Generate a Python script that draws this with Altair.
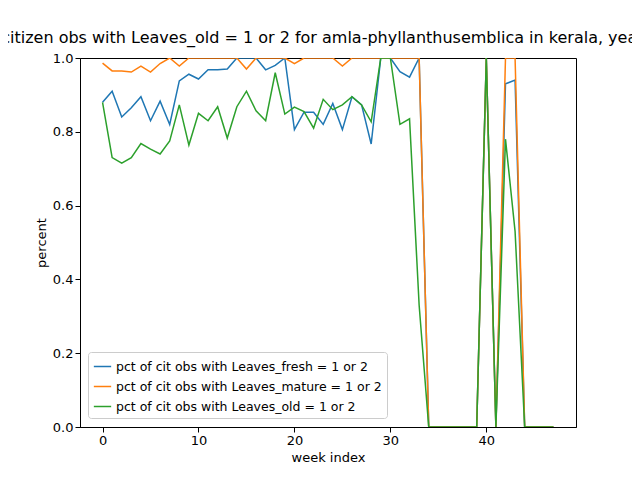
import altair as alt
import pandas as pd

weeks = list(range(48))

fresh = [0.88, 0.91, 0.84, 0.865, 0.895, 0.83, 0.883, 0.82, 0.938, 0.956,
         0.943, 0.968, 0.968, 0.97, 1.0, 1.0, 1.0, 0.968, 0.98, 1.0,
         0.806, 0.853, 0.853, 0.82, 0.877, 0.806, 0.895, 0.873, 0.767, 1.0,
         1.0, 0.963, 0.948, 1.0, 0.0, 0.0, 0.0, 0.0, 0.0, 0.0,
         1.0, 0.0, 0.93, 0.94, 0.0, 0.0, 0.0, 0.0]
mature = [0.986, 0.965, 0.965, 0.962, 0.978, 0.962, 0.985, 1.0, 0.978, 1.0,
          1.0, 1.0, 1.0, 1.0, 1.0, 0.97, 1.0, 1.0, 1.0, 1.0,
          0.985, 1.0, 1.0, 1.0, 1.0, 0.978, 1.0, 1.0, 1.0, 1.0,
          1.0, 1.0, 1.0, 1.0, 0.0, 0.0, 0.0, 0.0, 0.0, 0.0,
          1.0, 0.0, 1.0, 1.0, 0.0, 0.0, 0.0, 0.0]
old = [0.88, 0.73, 0.715, 0.73, 0.768, 0.753, 0.74, 0.775, 0.873, 0.764,
       0.85, 0.83, 0.868, 0.783, 0.868, 0.91, 0.857, 0.83, 0.96, 0.848,
       0.867, 0.855, 0.81, 0.888, 0.86, 0.873, 0.895, 0.873, 0.827, 1.0,
       1.0, 0.82, 0.835, 0.33, 0.0, 0.0, 0.0, 0.0, 0.0, 0.0,
       1.0, 0.0, 0.78, 0.53, 0.0, 0.0, 0.0, 0.0]

names = ["pct of cit obs with Leaves_fresh = 1 or 2",
         "pct of cit obs with Leaves_mature = 1 or 2",
         "pct of cit obs with Leaves_old = 1 or 2"]
colors = ["#1f77b4", "#ff7f0e", "#2ca02c"]

rows = []
for name, vals in zip(names, [fresh, mature, old]):
    for w, v in zip(weeks, vals):
        rows.append({"week": w, "pct": v, "series": name})
df = pd.DataFrame(rows)

chart = (
    alt.Chart(df)
    .mark_line(clip=True, strokeWidth=1.5)
    .encode(
        x=alt.X("week:Q", title="week index",
                scale=alt.Scale(domain=[-2.35, 49.35], nice=False, zero=False),
                axis=alt.Axis(values=[0, 10, 20, 30, 40], grid=False)),
        y=alt.Y("pct:Q", title="percent",
                scale=alt.Scale(domain=[0, 1], nice=False),
                axis=alt.Axis(values=[0, 0.2, 0.4, 0.6, 0.8, 1.0], format=".1f", grid=False)),
        color=alt.Color("series:N", scale=alt.Scale(domain=names, range=colors),
                        legend=alt.Legend(title=None, orient="none", legendX=8, legendY=294,
                                          symbolType="stroke", symbolStrokeWidth=1.5, symbolSize=300,
                                          labelFontSize=12.5, labelFont="DejaVu Sans", labelLimit=0,
                                          fillColor="white", strokeColor="#cccccc",
                                          padding=5, cornerRadius=3, rowPadding=4)),
        order="week:Q",
    )
    .properties(
        width=496, height=369,
        autosize=alt.AutoSizeParams(type="none"),
        padding={"left": 72, "top": 50, "right": 56, "bottom": 45},
        title=alt.TitleParams(
            "pct of citizen obs with Leaves_old = 1 or 2 for amla-phyllanthusemblica in kerala, year 2020",
            fontSize=16, fontWeight="normal", font="DejaVu Sans", dx=-8, offset=6),
    )
    .configure_axis(labelFont="DejaVu Sans", titleFont="DejaVu Sans", labelFontSize=13,
                    titleFontSize=13, titleFontWeight="normal", domainColor="black",
                    tickColor="black", labelColor="black", titleColor="black", tickSize=5)
    .configure_view(stroke="black", strokeWidth=1)
)

chart.save("out.html", embed_options={"renderer": "svg", "actions": False})
